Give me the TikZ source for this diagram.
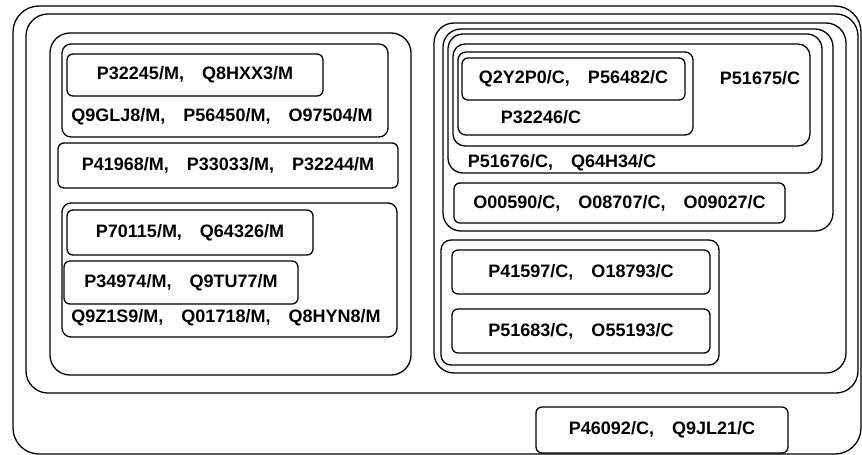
\documentclass[tikz,border=0pt]{standalone}
\usepackage{fontspec}
\setmainfont{Liberation Sans}
\usepackage{tikz}

\begin{document}
\begin{tikzpicture}[x=1pt,y=-1pt,
    grp/.style={draw,line width=1.3pt,inner sep=0pt,outer sep=0pt},
    idbox/.style={draw,line width=1.3pt,rounded corners=6pt,inner sep=0pt,outer sep=0pt,
                  font=\fontsize{18}{20}\selectfont\bfseries},
    idtext/.style={inner sep=0pt,font=\fontsize{18}{20}\selectfont\bfseries}
  ]
    \useasboundingbox (0,0) rectangle (862,455);
    % outer frames
    \node[grp,rounded corners=26pt,minimum width=848pt,minimum height=448pt] (outer) at (437,230) {};
    \node[grp,rounded corners=22pt,minimum width=832pt,minimum height=379pt] (inner) at (442,203.5) {};
    % M side
    \node[grp,rounded corners=20pt,minimum width=361pt,minimum height=342pt] (mside) at (230.5,204) {};
    \node[grp,rounded corners=9pt,minimum width=326pt,minimum height=93pt] (mgrpA) at (225,90.5) {};
    \node[idbox,minimum width=256pt,minimum height=42pt] (mA) at (195,75) {P32245/M,\quad Q8HXX3/M};
    \node[idtext] (mAt) at (222,117) {Q9GLJ8/M,\quad P56450/M,\quad O97504/M};
    \node[idbox,minimum width=340pt,minimum height=45pt] (mB) at (228,165.5) {P41968/M,\quad P33033/M,\quad P32244/M};
    \node[grp,rounded corners=9pt,minimum width=335pt,minimum height=134pt] (mgrpC) at (229.5,270) {};
    \node[idbox,minimum width=246pt,minimum height=45pt] (mC1) at (190,232.5) {P70115/M,\quad Q64326/M};
    \node[idbox,minimum width=234pt,minimum height=43pt] (mC2) at (181,282.5) {P34974/M,\quad Q9TU77/M};
    \node[idtext] (mCt) at (226,318) {Q9Z1S9/M,\quad Q01718/M,\quad Q8HYN8/M};
    % C side
    \node[grp,rounded corners=20pt,minimum width=412pt,minimum height=350pt] (cside) at (640,198) {};
    \node[grp,rounded corners=18pt,minimum width=390pt,minimum height=202pt] (cgrpA) at (638,130) {};
    \node[grp,rounded corners=15pt,minimum width=374pt,minimum height=139pt] (cgrpB) at (635,103.5) {};
    \node[grp,rounded corners=12pt,minimum width=357pt,minimum height=102pt] (cgrpC) at (631.5,95) {};
    \node[grp,rounded corners=8pt,minimum width=235pt,minimum height=83pt] (cgrpD) at (575.5,93.5) {};
    \node[idbox,minimum width=223pt,minimum height=42pt] (cD) at (573.5,79) {Q2Y2P0/C,\quad P56482/C};
    \node[idtext] (cDt) at (541,117) {P32246/C};
    \node[idtext] (cCt) at (760,78) {P51675/C};
    \node[idtext] (cBt) at (562,163) {P51676/C,\quad Q64H34/C};
    \node[idbox,minimum width=331pt,minimum height=40pt] (cA) at (619.5,203) {O00590/C,\quad O08707/C,\quad O09027/C};
    \node[grp,rounded corners=10pt,minimum width=278pt,minimum height=125pt] (cgrpE) at (580,302.5) {};
    \node[idbox,minimum width=258pt,minimum height=44pt] (cE1) at (581,272) {P41597/C,\quad O18793/C};
    \node[idbox,minimum width=258pt,minimum height=44pt] (cE2) at (581,331) {P51683/C,\quad O55193/C};
    % outside the inner frame
    \node[idbox,minimum width=252pt,minimum height=46pt] (cF) at (662,430) {P46092/C,\quad Q9JL21/C};
\end{tikzpicture}
\end{document}
